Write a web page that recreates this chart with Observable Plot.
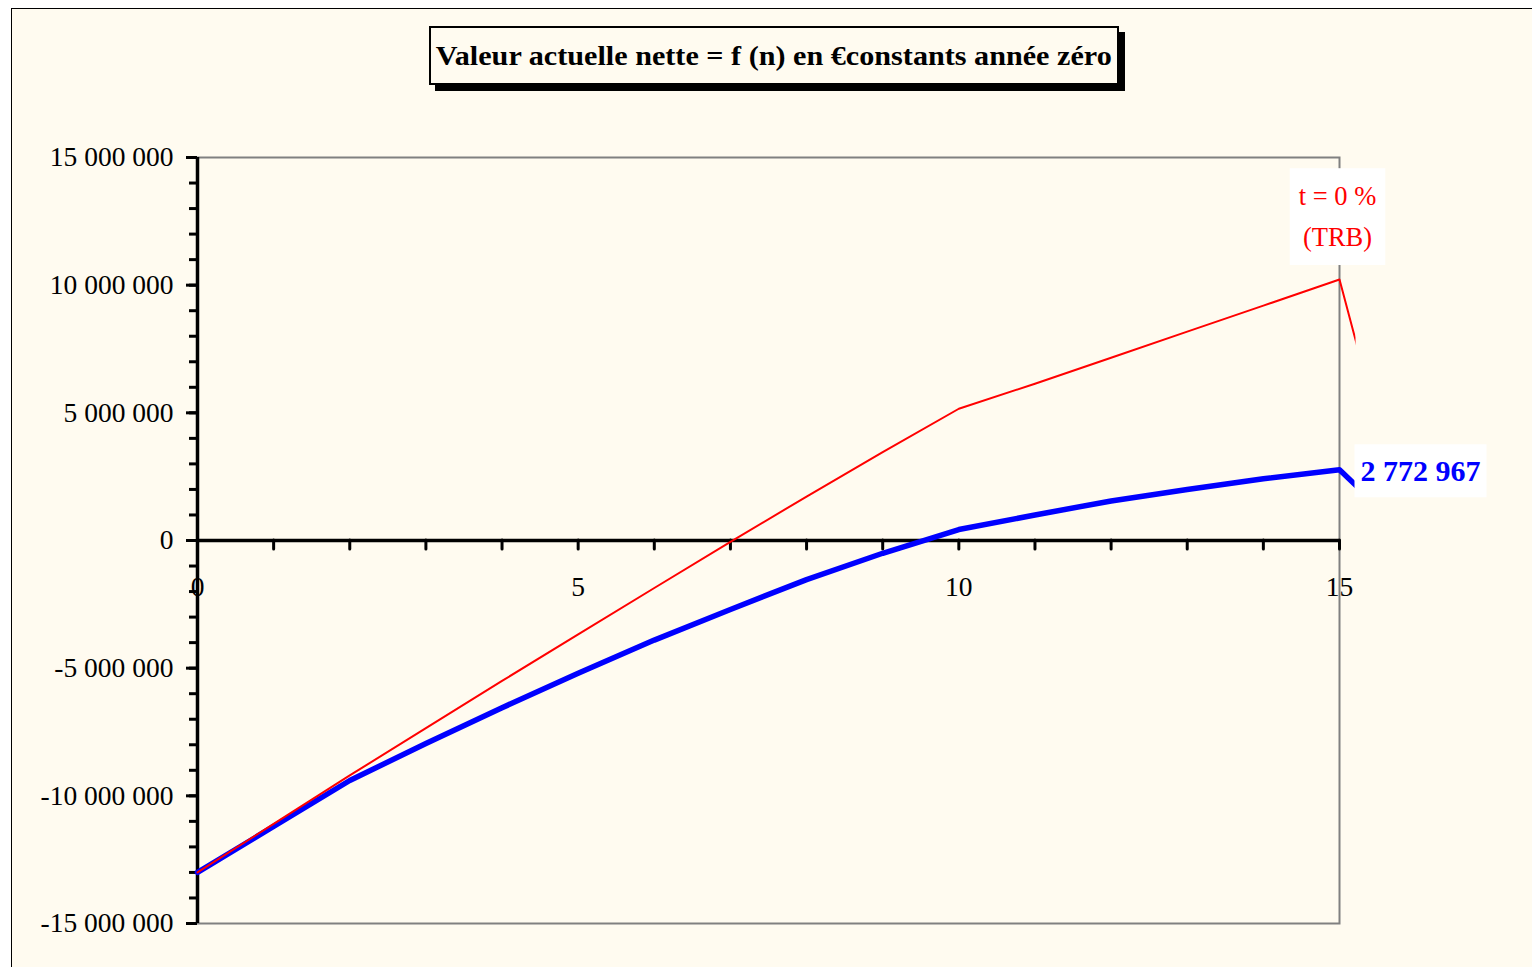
<!DOCTYPE html>
<html>
<head>
<meta charset="utf-8">
<script src="https://cdn.jsdelivr.net/npm/d3@7"></script>
<script src="https://cdn.jsdelivr.net/npm/@observablehq/plot@0.6"></script>
<style>
  html, body { margin: 0; padding: 0; background: #fff; width: 1532px; height: 967px; overflow: hidden;
    font-family: "Liberation Serif", "Times New Roman", serif; }
  #sheet { position: absolute; left: 11px; top: 8px; right: -10px; bottom: -10px; background: #FFFBF0;
    border-left: 1.5px solid #000; border-top: 1.5px solid #000; }
  #title { position: absolute; left: 429px; top: 26px; width: 686px; height: 55px; border: 2px solid #000;
    box-shadow: 6px 6px 0 #000; background: #FFFBF0; display: flex; align-items: center; justify-content: center;
    white-space: nowrap; }
  #title span { display: inline-block; font-weight: bold; font-size: 28px; transform-origin: center; }
  #chart { position: absolute; left: 0; top: 0; }
</style>
</head>
<body>
<div id="sheet"></div>
<div id="title"><span>Valeur actuelle nette = f (n) en €constants année zéro</span></div>
<div id="chart"></div>
<script>
// Years of operation (the last one falls just past the axis end)
const years = [0, 1, 2, 3, 4, 5, 6, 7, 8, 9, 10, 11, 12, 13, 14, 15, 16];

// NPV at t = 0 % (payback, TRB), constant euros of year zero
const vanTrb = [-13.0e6, -11.1e6, -9.2e6, -7.35e6, -5.5e6, -3.68e6, -1.86e6, -0.05e6, 1.72e6, 3.46e6,
  5.16e6, 6.14e6, 7.16e6, 8.18e6, 9.2e6, 10.22e6, -1.0e6];

// NPV at the discount rate
const vanActu = [-13.0e6, -11.2e6, -9.4e6, -7.95e6, -6.55e6, -5.2e6, -3.9e6, -2.7e6, -1.53e6, -0.5e6,
  0.43e6, 1.0e6, 1.55e6, 2.0e6, 2.42e6, 2772967, -0.08e6];

// Axis ticks and labels
const yMajorTicks = [-15e6, -10e6, -5e6, 0, 5e6, 10e6, 15e6];
const yMinorTicks = d3.range(-15e6, 15e6 + 1, 1e6);
const xTicks = [0, 1, 2, 3, 4, 5, 6, 7, 8, 9, 10, 11, 12, 13, 14, 15];
const xLabels = [0, 5, 10, 15];
const trbLabel = "t = 0 %\n(TRB)";

const fmt = d3.formatLocale({decimal: ",", thousands: " ", grouping: [3], currency: ["", " €"], minus: "-"}).format(",d");

const rows = years.map((n, i) => ({n, trb: vanTrb[i], actu: vanActu[i]}));
const last = rows[15];

const chart = Plot.plot({
  width: 1532,
  height: 967,
  marginLeft: 197,
  marginRight: 193,
  marginTop: 157,
  marginBottom: 44,
  style: {fontFamily: "Liberation Serif, Times New Roman, serif", fontSize: "27.5px", color: "#000", background: "transparent", overflow: "visible"},
  x: {domain: [0, 15], axis: null},
  y: {domain: [-15e6, 15e6]},
  marks: [
    Plot.frame({stroke: "#808080", strokeWidth: 2}),
    Plot.text(xLabels, {x: d => d, y: () => 0, text: d => String(d), dy: 47, fontSize: 27.5, fill: "#000"}),
    Plot.axisY(yMinorTicks, {tickSize: 8, strokeWidth: 3, text: null, stroke: "#000"}),
    Plot.axisY(yMajorTicks, {tickSize: 11, strokeWidth: 3, tickPadding: 13, tickFormat: fmt, stroke: "#000", fill: "#000", fontSize: 27.5}),
    Plot.ruleX([0], {stroke: "#000", strokeWidth: 3.5}),
    Plot.ruleY([0], {stroke: "#000", strokeWidth: 3.5}),
    Plot.ruleX(xTicks, {x: d => d, y1: () => 0, y2: () => 0, insetBottom: -9, stroke: "#000", strokeWidth: 3, strokeLinecap: "round"}),
    Plot.line(rows, {x: "n", y: "actu", stroke: "#0000FF", strokeWidth: 5.5}),
    Plot.line(rows, {x: "n", y: "trb", stroke: "#FF0000", strokeWidth: 2}),
    Plot.text([last], {x: "n", y: "trb", text: () => trbLabel, dx: -2, dy: -67, lineHeight: 1.54,
      textAnchor: "middle", fill: "#FF0000", fontSize: 26.5}),
    Plot.text([last], {x: "n", y: "actu", text: d => fmt(d.actu), dx: 21, dy: 2, textAnchor: "start",
      fill: "#0000FF", fontSize: 30, fontWeight: "bold"})
  ]
});

document.getElementById("chart").append(chart);

const ns = "http://www.w3.org/2000/svg";
const lineGroups = [...chart.querySelectorAll("path")].map(p => p.parentNode).filter(g => g.getAttribute("aria-label") === "line");
const textGroups = [...chart.querySelectorAll(":scope > g")].filter(g => g.getAttribute("aria-label") === "text");

// Lines run on toward the next point but stop a little past the last year
const sx = chart.scale("x");
const defs = document.createElementNS(ns, "defs");
const clip = document.createElementNS(ns, "clipPath");
clip.setAttribute("id", "series-clip");
const clipRect = document.createElementNS(ns, "rect");
clipRect.setAttribute("x", 0);
clipRect.setAttribute("y", 0);
clipRect.setAttribute("width", sx.apply(15) + 16);
clipRect.setAttribute("height", 967);
clip.append(clipRect);
defs.append(clip);
chart.append(defs);
lineGroups.forEach(g => g.setAttribute("clip-path", "url(#series-clip)"));

// White boxes behind the data labels
function boxBehind(g, padX, padY) {
  g.querySelectorAll("text").forEach(t => {
    const b = t.getBBox();
    const r = document.createElementNS(ns, "rect");
    r.setAttribute("x", b.x - padX);
    r.setAttribute("y", b.y - padY);
    r.setAttribute("width", b.width + 2 * padX);
    r.setAttribute("height", b.height + 2 * padY);
    r.setAttribute("fill", "#fff");
    if (t.getAttribute("transform")) r.setAttribute("transform", t.getAttribute("transform"));
    t.parentNode.insertBefore(r, t);
  });
}
const labelGroups = textGroups.slice(-2);
boxBehind(labelGroups[0], 9, 13);
boxBehind(labelGroups[1], 6, 10);

// Fit the title text to its box
const span = document.querySelector("#title span");
const w = span.getBoundingClientRect().width;
span.style.transform = `scaleX(${676 / w})`;
</script>
</body>
</html>
